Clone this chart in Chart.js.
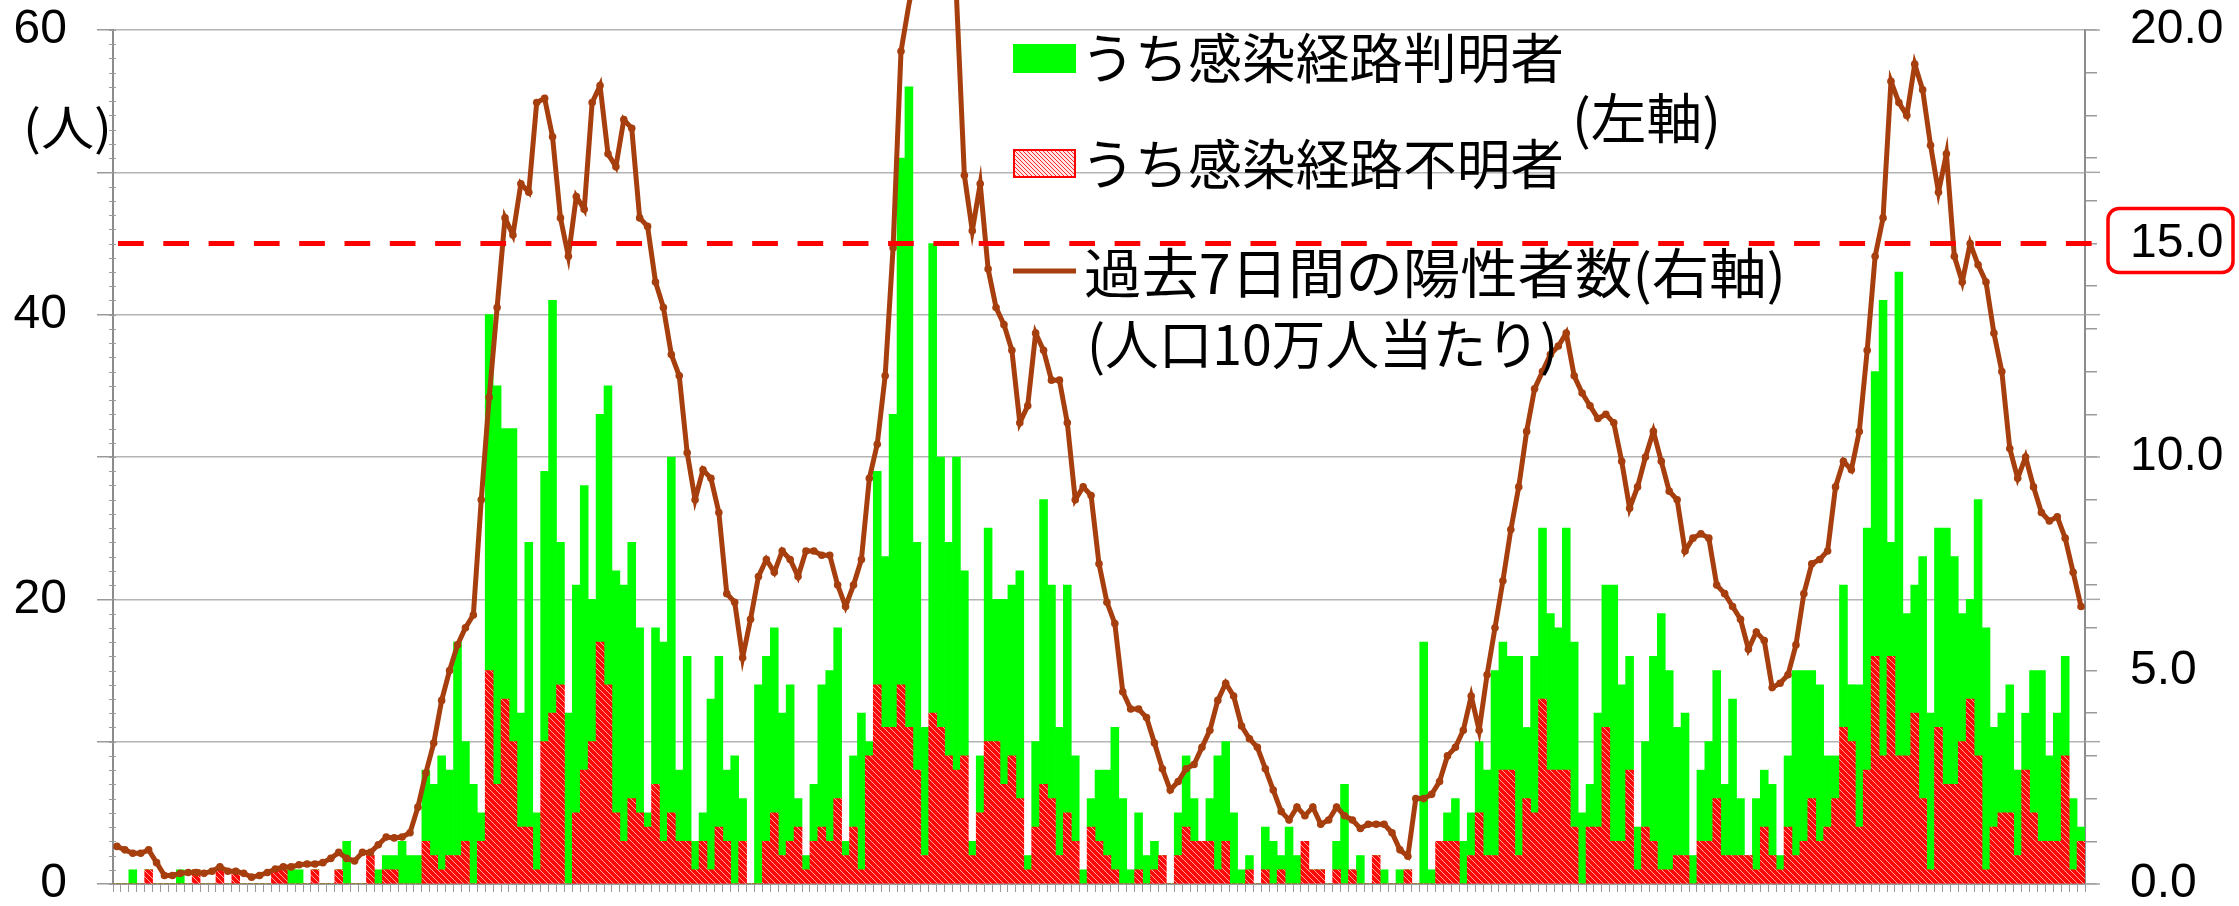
<!DOCTYPE html>
<html><head><meta charset="utf-8">
<script src="https://cdn.jsdelivr.net/npm/chart.js@4.4.1/dist/chart.umd.min.js"></script>
<style>html,body{margin:0;padding:0;background:#fff;overflow:hidden}#wrap{width:2239px;height:906px;position:relative}</style>
</head><body><div id="wrap"><canvas id="c" width="2239" height="906"></canvas></div>
<script>
// ---- data ----
const knownRoute = [
 0,0,1,0,0,0,0,0,1,0, 0,0,0,0,0,0,0,0,0,0, 0,0,1,1,0,0,0,0,0,3, 0,0,0,1,1,1,3,2,2,5,
 5,8,6,15,7,7,2,25,28,19, 22,8,20,4,19,29,10,12,16,20, 10,16,21,17,18,18,13,1,11,14,
 25,5,13,2,2,12,12,5,9,3, 0,14,13,13,10,11,2,1,4,10, 12,12,1,5,11,1,15,12,22,37,
 45,16,9,33,19,15,22,13,1,4, 15,10,13,12,16,1,6,20,15,9, 16,6,1,2,5,6,10,6,1,4,
 2,2,0,0,3,5,3,0,3,8, 7,5,1,1,0,3,3,1,4,2, 0,0,0,0,2,7,0,2,0,0,
 1,0,1,0,0,17,1,0,2,3, 3,3,5,6,13,9,8,14,5,11, 12,11,10,17,13,5,3,8,10,18,
 11,8,3,6,13,18,14,9,10,2, 5,7,9,5,11,4,0,5,4,5, 1,5,13,12,9,11,5,3,10,4,
 10,17,20,32,8,34,10,9,17,11, 14,18,16,9,7,18,17,7,7,9, 6,4,10,12,6,9,7,5,1
];
const unknownRoute = [
 0,0,0,0,1,0,0,0,0,0, 1,0,0,1,0,1,0,0,0,0, 1,1,0,0,0,1,0,0,1,0, 0,0,2,0,1,1,0,0,0,3,
 2,1,2,2,3,0,3,15,7,13, 10,4,4,1,10,12,14,0,5,8, 10,17,14,5,3,6,5,4,7,3,
 5,3,3,1,3,1,4,3,0,3, 0,0,3,5,2,3,4,1,3,4, 3,6,2,4,1,9,14,11,11,14,
 11,8,2,12,11,9,8,9,2,5, 10,10,7,9,6,1,4,7,6,2, 5,3,0,4,3,2,1,0,0,1,
 0,1,2,0,2,4,3,3,3,1, 3,0,0,1,0,1,0,1,0,0, 3,1,1,0,1,0,1,0,0,2,
 0,0,0,1,0,0,0,3,3,3, 0,2,5,2,2,8,8,2,6,5, 13,8,8,8,4,0,4,4,11,3,
 3,8,1,4,3,1,1,2,2,0, 3,3,6,2,2,2,2,1,4,2, 1,4,2,3,6,3,4,6,11,10,
 4,8,16,9,16,9,9,12,6,1, 11,7,7,10,13,9,1,4,5,5, 2,8,5,3,3,3,9,1,3
];
const weeklyPer100k = [
 0.88,0.8,0.72,0.72,0.8,0.5,0.2,0.2,0.25,0.27,0.27,0.25,0.3,0.4,0.3,0.3,0.25,0.16,0.2,0.27,
 0.35,0.4,0.4,0.45,0.47,0.47,0.5,0.6,0.74,0.6,0.54,0.74,0.74,0.92,1.1,
 1.08,1.1,1.2,1.8,2.6,3.3,4.3,5.0,5.6,6.0,6.3,9.0,11.4,13.5,15.6,15.2,16.4,16.2,18.3,18.4,
 17.5,15.6,14.7,16.1,15.8,18.3,18.7,17.1,16.8,17.9,17.7,15.6,15.4,14.1,13.5,12.4,
 11.9,10.1,9.0,9.7,9.5,8.7,6.8,6.6,5.3,6.2,7.2,7.6,7.3,7.8,7.6,7.2,7.8,7.8,7.7,7.7,
 7.0,6.5,7.0,7.6,9.5,10.3,11.9,14.9,19.5,20.6,21.5,23,24,23.5,22,20.8,
 16.6,15.3,16.4,14.4,13.5,13.1,12.5,10.8,11.2,12.9,12.5,11.8,11.8,10.8,9.0,9.3,9.1,7.5,6.6,6.1,
 4.5,4.1,4.1,3.9,3.3,2.7,2.2,2.4,2.7,2.8,3.2,3.6,4.3,4.7,
 4.4,3.7,3.4,3.2,2.7,2.2,1.7,1.5,1.8,1.6,1.8,1.4,1.5,1.8,1.6,1.5,1.3,1.4,1.4,1.4,
 1.2,0.8,0.65,2.0,2.0,2.1,2.4,3.0,3.2,3.6,4.4,3.6,4.9,6.0,
 7.1,8.3,9.3,10.6,11.6,12.0,12.4,12.6,12.9,11.9,11.5,11.2,10.9,11.0,10.8,9.9,8.8,9.3,10.0,10.6,
 9.9,9.2,9.0,7.8,8.1,8.2,8.1,7.0,6.8,6.5,6.2,5.5,5.9,5.7,4.6,4.7,4.9,
 5.6,6.8,7.5,7.6,7.8,9.3,9.9,9.7,10.6,12.5,14.7,15.6,18.8,18.3,18.0,19.2,18.6,17.3,16.2,17.1,
 14.7,14.1,15.0,14.5,14.1,12.9,12.0,10.2,9.5,10.0,9.3,8.7,8.5,8.6,8.1,7.3,6.5
];
const dayLabels = knownRoute.map((_, i) => 'day ' + (i + 1));
const leftTickLabels = [0, 20, 40, 60];
const rightTickLabels = [0, 5, 10, 15, 20];
const thresholdValue = 15;
const unitLabel = '(人)';
const legendTexts = ['うち感染経路判明者', 'うち感染経路不明者', '(左軸)', '過去7日間の陽性者数(右軸)', '(人口10万人当たり)'];

// ---- styles ----
const GREEN = '#00FF00';
const BROWN = '#A63E0E';
const FONT_NUM = "'Liberation Sans', Arial, sans-serif";
const FONT_JP = "'Noto Sans CJK JP', 'Noto Sans CJK SC', sans-serif";

function makeHatch(bg, fg, size, lw) {
  const c = document.createElement('canvas');
  c.width = c.height = size;
  const g = c.getContext('2d');
  g.fillStyle = bg; g.fillRect(0, 0, size, size);
  g.strokeStyle = fg; g.lineWidth = lw;
  g.beginPath();
  g.moveTo(-2, -2); g.lineTo(size + 2, size + 2);
  g.moveTo(-2, size - 2); g.lineTo(2, size + 2);
  g.moveTo(size - 2, -2); g.lineTo(size + 2, 2);
  g.stroke();
  return c;
}
const ctx = document.getElementById('c').getContext('2d');
const barHatch = ctx.createPattern(makeHatch('#FF0808', '#FFB4B4', 6, 0.9), 'repeat');
const legendHatch = ctx.createPattern(makeHatch('#FFE6E6', '#FF2A2A', 4, 1), 'repeat');

function fitText(g, text, x, yMid, width, size, family) {
  g.save();
  g.font = size + 'px ' + family;
  g.textBaseline = 'middle';
  g.textAlign = 'left';
  const w = g.measureText(text).width;
  g.translate(x, yMid);
  g.scale(width / w, 1);
  g.fillStyle = '#000';
  g.fillText(text, 0, 0);
  g.restore();
}

const decor = {
  id: 'decor',
  beforeDraw(chart) {
    const g = chart.ctx;
    g.save(); g.fillStyle = '#fff'; g.fillRect(0, 0, chart.width, chart.height); g.restore();
  },
  afterDraw(chart) {
    const g = chart.ctx;
    const y = chart.scales.y, y2 = chart.scales.y2;
    const L = chart.chartArea.left, R = chart.chartArea.right;
    g.save();
    // minor ticks on left axis
    g.strokeStyle = '#9a9a9a'; g.lineWidth = 1;
    for (let v = 0; v <= 60; v++) {
      const py = Math.round(y.getPixelForValue(v)) + 0.5;
      g.beginPath(); g.moveTo(L - 4, py); g.lineTo(L + 3, py); g.stroke();
    }
    // left gridlines extend past right axis
    g.strokeStyle = '#a8a8a8'; g.lineWidth = 1.5;
    for (let v = 0; v <= 60; v += 10) {
      const py = y.getPixelForValue(v);
      g.beginPath(); g.moveTo(R, py); g.lineTo(R + 15, py); g.stroke();
    }
    // threshold dashed line
    const ty = y2.getPixelForValue(thresholdValue);
    g.strokeStyle = '#FF0000'; g.lineWidth = 5; g.setLineDash([25.7, 19.6]);
    g.beginPath(); g.moveTo(L + 5, ty); g.lineTo(R + 11, ty); g.stroke();
    g.setLineDash([]);
    // box around 15.0
    g.strokeStyle = '#FF0000'; g.lineWidth = 3.5;
    g.beginPath(); g.roundRect(2108, ty - 35, 125, 64, 11); g.stroke();
    // unit label
    fitText(g, unitLabel, 23, 127, 89, 48, FONT_JP);
    // legend
    g.fillStyle = GREEN; g.fillRect(1013, 44, 63, 29);
    g.fillStyle = legendHatch; g.fillRect(1013, 149, 63, 29);
    g.strokeStyle = '#FF0000'; g.lineWidth = 2; g.strokeRect(1014, 150, 61, 27);
    g.strokeStyle = BROWN; g.lineWidth = 5;
    g.beginPath(); g.moveTo(1013, 271); g.lineTo(1076, 271); g.stroke();
    fitText(g, legendTexts[0], 1081, 58, 483, 54, FONT_JP);
    fitText(g, legendTexts[1], 1081, 164, 483, 54, FONT_JP);
    fitText(g, legendTexts[2], 1572, 118, 149, 54, FONT_JP);
    fitText(g, legendTexts[3], 1084, 273, 702, 54, FONT_JP);
    fitText(g, legendTexts[4], 1087, 344, 471, 54, FONT_JP);
    g.restore();
  }
};

new Chart(ctx, {
  type: 'bar',
  data: {
    labels: dayLabels,
    datasets: [
      { type: 'line', label: legendTexts[3], data: weeklyPer100k, yAxisID: 'y2',
        borderColor: BROWN, backgroundColor: BROWN, borderWidth: 5, pointRadius: 3.8,
        pointBackgroundColor: BROWN, pointBorderWidth: 0, tension: 0, clip: false, order: 0 },
      { label: legendTexts[1], data: unknownRoute, yAxisID: 'y', backgroundColor: barHatch,
        borderWidth: 0, order: 1, stack: 's' },
      { label: legendTexts[0], data: knownRoute, yAxisID: 'y', backgroundColor: GREEN,
        borderWidth: 0, order: 2, stack: 's' }
    ]
  },
  options: {
    responsive: false, animation: false, devicePixelRatio: 1,
    layout: { padding: { top: 30, left: 0, right: 0, bottom: 0 } },
    plugins: { legend: { display: false }, tooltip: { enabled: false } },
    datasets: { bar: { categoryPercentage: 1, barPercentage: 1 } },
    scales: {
      x: { stacked: true, offset: true,
        grid: { display: true, drawOnChartArea: false, drawTicks: true, tickLength: 8, color: '#9a9a9a', lineWidth: 1, offset: true },
        border: { display: true, color: '#9a9a9a', width: 2 },
        ticks: { display: false },
        afterFit(s) { s.height = 22; } },
      y: { stacked: true, position: 'left', min: 0, max: 60,
        ticks: { stepSize: 10, autoSkip: false, padding: 30, color: '#000',
          font: { family: FONT_NUM, size: 48 },
          callback: v => leftTickLabels.includes(v) ? String(v) : '' },
        grid: { color: '#b4b4b4', lineWidth: 1.5, tickLength: 16, tickColor: '#9a9a9a' },
        border: { color: '#8c8c8c', width: 2 },
        afterFit(s) { s.width = 113; s.paddingTop = 0; s.paddingBottom = 0; } },
      y2: { position: 'right', min: 0, max: 20,
        ticks: { stepSize: 1, autoSkip: false, padding: 33, color: '#000',
          font: { family: FONT_NUM, size: 48 },
          callback: v => rightTickLabels.includes(v) ? v.toFixed(1) : '' },
        grid: { drawOnChartArea: false, tickLength: 12, color: '#9a9a9a', lineWidth: 1.5 },
        border: { color: '#8c8c8c', width: 2 },
        afterFit(s) { s.width = 154; s.paddingTop = 0; s.paddingBottom = 0; } }
    }
  },
  plugins: [decor]
});
</script></body></html>
